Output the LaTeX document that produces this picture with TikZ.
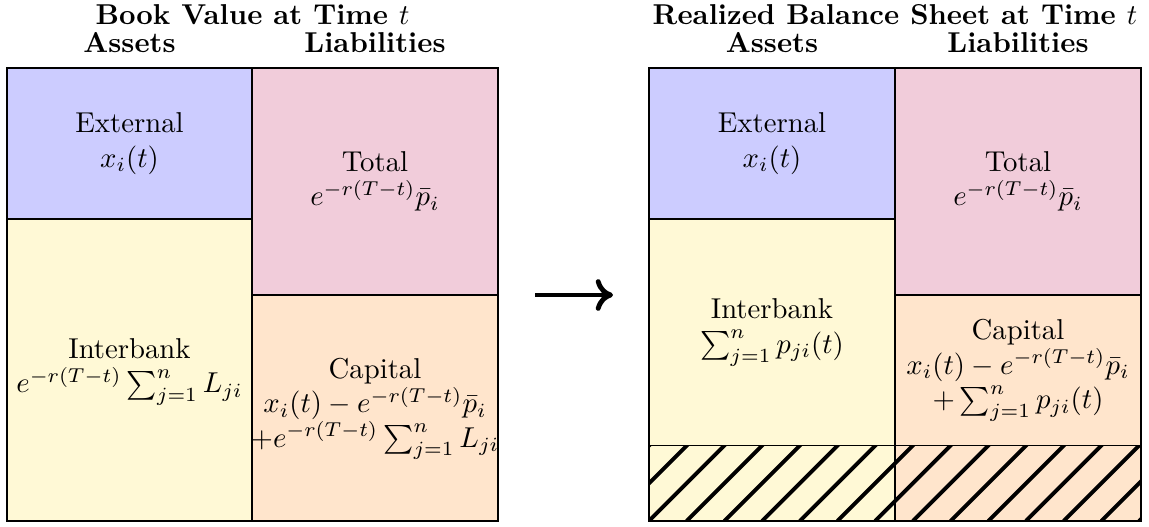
\documentclass[tikz,border=0pt]{standalone}
\usetikzlibrary{arrows.meta}
\definecolor{extc}{RGB}{204,204,255}
\definecolor{totc}{RGB}{241,204,218}
\definecolor{intc}{RGB}{255,249,214}
\definecolor{capc}{RGB}{255,229,204}
\begin{document}
\begin{tikzpicture}[x=0.348pt,y=-0.348pt,
  cell/.style={draw=black,line width=0.5pt},
  lbl/.style={align=center,inner sep=0pt},
  head/.style={font=\bfseries,anchor=base,inner sep=0pt},
  hatchline/.style={line width=1.35pt,black}]
\useasboundingbox (0,0) rectangle (1149,527);
% ---------- left: book value ----------
\filldraw[cell,fill=extc] (7,68) rectangle (252,219);
\filldraw[cell,fill=intc] (7,219) rectangle (252,521);
\filldraw[cell,fill=totc] (252,68) rectangle (498,295);
\filldraw[cell,fill=capc] (252,295) rectangle (498,521);
\node[head] (t1) at (252.5,25) {Book Value at Time $t$};
\node[head] (a1) at (129.5,53) {Assets};
\node[head] (l1) at (375,53) {Liabilities};
\node[lbl] (ext1) at (129.5,143.5) {External\\ $x_i(t)$};
\node[lbl] (int1) at (129.5,372) {Interbank\\ $e^{-r(T-t)}\sum_{j=1}^n L_{ji}$};
\node[lbl] (tot1) at (375,181.5) {Total\\ $e^{-r(T-t)}\bar{p}_i$};
\node[lbl] (cap1) at (375,409) {Capital\\ $x_i(t)-e^{-r(T-t)}\bar{p}_i$\\ $+e^{-r(T-t)}\sum_{j=1}^n L_{ji}$};
% ---------- arrow ----------
\coordinate (arS) at (535,295);
\coordinate (arE) at (613,295);
\draw[line width=1.7pt,-{To[length=6pt,width=11pt]}] (arS) -- (arE);
% ---------- right: realized ----------
\fill[extc] (649,68) rectangle (895,219);
\fill[intc] (649,219) rectangle (895,521);
\fill[totc] (895,68) rectangle (1141,295);
\fill[capc] (895,295) rectangle (1141,521);
\begin{scope}
  \clip (649,445.5) rectangle (1141,521);
  \foreach \k in {-3,...,13}
    \draw[hatchline] ({649+37.7*\k},521) -- ++(120,-120);
\end{scope}
\draw[cell] (649,68) rectangle (895,219);
\draw[cell] (649,219) rectangle (895,445.5);
\draw[cell] (649,445.5) rectangle (895,521);
\draw[cell] (895,68) rectangle (1141,295);
\draw[cell] (895,295) rectangle (1141,445.5);
\draw[cell] (895,445.5) rectangle (1141,521);
\node[head] (t2) at (895,25) {Realized Balance Sheet at Time $t$};
\node[head] (a2) at (772,53) {Assets};
\node[head] (l2) at (1018,53) {Liabilities};
\node[lbl] (ext2) at (772,143.5) {External\\ $x_i(t)$};
\node[lbl] (int2) at (772,332.5) {Interbank\\ $\sum_{j=1}^n p_{ji}(t)$};
\node[lbl] (tot2) at (1018,181.5) {Total\\ $e^{-r(T-t)}\bar{p}_i$};
\node[lbl] (cap2) at (1018,370.5) {Capital\\ $x_i(t)-e^{-r(T-t)}\bar{p}_i$\\ $+\sum_{j=1}^n p_{ji}(t)$};
\end{tikzpicture}
\end{document}
